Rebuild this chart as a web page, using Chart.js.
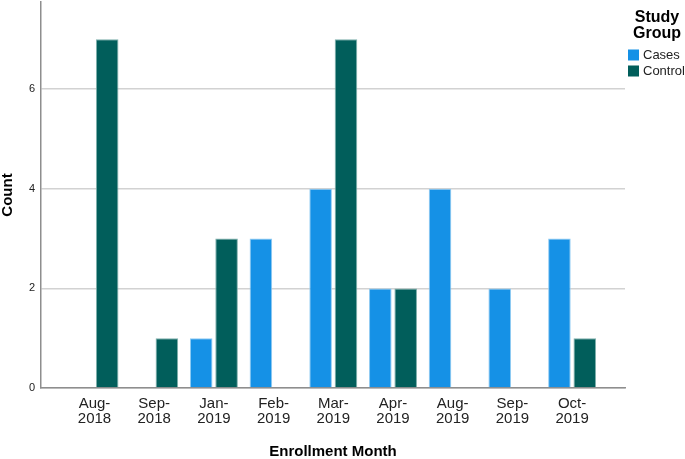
<!DOCTYPE html>
<html>
<head>
<meta charset="utf-8">
<script src="https://cdn.jsdelivr.net/npm/chart.js@4"></script>
<style>
  html, body { margin: 0; padding: 0; background: #fff; }
  #wrap { width: 685px; height: 459px; position: relative; }
</style>
</head>
<body>
<div id="wrap"><canvas id="chart"></canvas></div>
<script>
// Datos
const months = ['Aug-2018', 'Sep-2018', 'Jan-2019', 'Feb-2019', 'Mar-2019', 'Apr-2019', 'Aug-2019', 'Sep-2019', 'Oct-2019'];
const casesCounts = [null, null, 1, 3, 4, 2, 4, 2, 3];
const controlCounts = [7, 1, 3, null, 7, 2, null, null, 1];
const yTicks = [0, 2, 4, 6];
const legendTitle = ['Study', 'Group'];

const FONT = '"Liberation Sans", Arial, sans-serif';

const toPoints = arr => arr.map((v, i) => ({ x: i, y: v }));

// Leyenda dibujada a mano (título en dos líneas)
const sideLegend = {
  id: 'sideLegend',
  afterDraw(chart) {
    const ctx = chart.ctx;
    ctx.save();
    ctx.fillStyle = '#000';
    ctx.font = 'bold 16px ' + FONT;
    ctx.textAlign = 'center';
    ctx.textBaseline = 'middle';
    legendTitle.forEach((t, i) => ctx.fillText(t, 657, 18 + i * 15.5));
    ctx.font = '13px ' + FONT;
    ctx.textAlign = 'left';
    chart.data.datasets.forEach((ds, i) => {
      const y = 55 + i * 16;
      ctx.fillStyle = ds.backgroundColor;
      ctx.fillRect(628, y - 5.5, 11, 11);
      ctx.fillStyle = '#222';
      ctx.fillText(ds.label, 643, y + 0.5);
    });
    ctx.restore();
  }
};

new Chart(document.getElementById('chart'), {
  type: 'bar',
  data: {
    datasets: [
      { label: 'Cases', data: toPoints(casesCounts), backgroundColor: '#1591e6', borderColor: '#8fcaf2', borderWidth: 1 },
      { label: 'Control', data: toPoints(controlCounts), backgroundColor: '#015e5b', borderColor: '#7fb0ad', borderWidth: 1 }
    ]
  },
  options: {
    responsive: true, maintainAspectRatio: false, animation: false,
    categoryPercentage: 0.85, barPercentage: 0.89,
    layout: { padding: { left: 0, top: 2, right: 60, bottom: 0 } },
    plugins: { legend: { display: false }, tooltip: { enabled: false } },
    scales: {
      x: {
        type: 'linear', offset: false, min: -0.896, max: 8.886,
        afterBuildTicks: s => { s.ticks = months.map((_, i) => ({ value: i })); },
        afterFit: s => { s.height = 71; s.paddingLeft = 0; s.paddingRight = 0; },
        grid: { display: false, drawTicks: false },
        border: { display: true, color: '#8e8e8e', width: 1.5 },
        ticks: {
          padding: 8, color: '#222', maxRotation: 0, autoSkip: false,
          font: { family: FONT, size: 15, lineHeight: 1.0 },
          callback: v => { const m = months[v]; const k = m.indexOf('-'); return [m.slice(0, k + 1), m.slice(k + 1)]; }
        },
        title: { display: true, text: 'Enrollment Month', color: '#000', padding: 0, font: { family: FONT, size: 15, weight: 'bold', lineHeight: 1.0 } }
      },
      y: {
        min: 0, max: 7.75,
        afterBuildTicks: s => { s.ticks = yTicks.map(v => ({ value: v })); },
        afterFit: s => { s.width = 41; s.paddingTop = 0; s.paddingBottom = 0; },
        grid: { color: '#d2d2d2', lineWidth: 1.5, drawTicks: false },
        border: { display: true, color: '#8e8e8e', width: 1.5 },
        ticks: { padding: 6, color: '#222', font: { family: FONT, size: 11 } },
        title: { display: true, text: 'Count', color: '#000', padding: 0, font: { family: FONT, size: 15, weight: 'bold', lineHeight: 1.0 } }
      }
    }
  },
  plugins: [sideLegend]
});
</script>
</body>
</html>
